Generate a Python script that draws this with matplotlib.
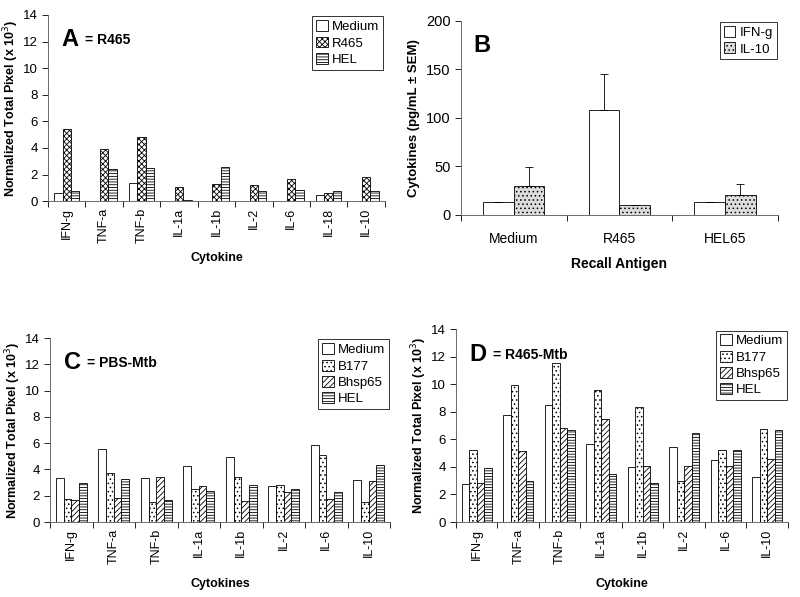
import numpy as np
import matplotlib
matplotlib.use("Agg")
import matplotlib.pyplot as plt

plt.rcParams['font.family'] = ['Liberation Sans', 'DejaVu Sans']
plt.rcParams['hatch.linewidth'] = 0.6

# panel A
cyto_a = ["IFN-g", "TNF-a", "TNF-b", "IL-1a", "IL-1b", "IL-2", "IL-6", "IL-18", "IL-10"]
a_medium = [0.65, 0, 1.4, 0, 0, 0, 0, 0.5, 0]
a_r465 = [5.4, 3.9, 4.85, 1.05, 1.3, 1.25, 1.65, 0.6, 1.8]
a_hel = [0.8, 2.45, 2.5, 0.1, 2.55, 0.8, 0.85, 0.75, 0.8]

# panel B
antigens = ["Medium", "R465", "HEL65"]
b_ifng = [13, 108, 13]
b_ifng_err = [0, 37, 0]
b_il10 = [30, 10, 21]
b_il10_err = [19, 0, 11]

# panels C and D
cyto_cd = ["IFN-g", "TNF-a", "TNF-b", "IL-1a", "IL-1b", "IL-2", "IL-6", "IL-10"]
c_medium = [3.35, 5.55, 3.35, 4.25, 4.95, 2.75, 5.85, 3.2]
c_b177 = [1.75, 3.75, 1.5, 2.55, 3.4, 2.8, 5.1, 1.55]
c_bhsp65 = [1.7, 1.85, 3.45, 2.75, 1.6, 2.3, 1.75, 3.15]
c_hel = [2.95, 3.25, 1.65, 2.35, 2.85, 2.55, 2.25, 4.35]

d_medium = [2.75, 7.75, 8.5, 5.7, 4.0, 5.45, 4.5, 3.3]
d_b177 = [5.2, 9.95, 11.55, 9.6, 8.35, 3.0, 5.2, 6.75]
d_bhsp65 = [2.8, 5.15, 6.8, 7.45, 4.05, 4.1, 4.05, 4.55]
d_hel = [3.95, 3.0, 6.7, 3.5, 2.8, 6.45, 5.2, 6.7]

STYLE = {
    "Medium": dict(facecolor="white", hatch=None),
    "R465": dict(facecolor="white", hatch="xxxxxx"),
    "HEL": dict(facecolor="white", hatch="------"),
    "B177": dict(facecolor="white", hatch="...."),
    "Bhsp65": dict(facecolor="white", hatch="//////"),
}


def excel_axes(ax, cats, rot=90, fs=9):
    n = len(cats)
    x = np.arange(n)
    ax.set_xticks(x)
    ax.set_xticklabels(cats, rotation=rot, fontsize=fs)
    ax.tick_params(axis="x", which="major", length=0, pad=5)
    ax.set_xticks(np.arange(n + 1) - 0.5, minor=True)
    ax.tick_params(axis="x", which="minor", length=4, width=0.6, direction="out")
    ax.tick_params(axis="y", length=4, width=0.6, labelsize=fs + 0.5)
    ax.set_xlim(-0.5, n - 0.5)
    for s in ["top", "right"]:
        ax.spines[s].set_visible(False)
    for s in ["left", "bottom"]:
        ax.spines[s].set_linewidth(0.6)
        ax.spines[s].set_color("#555555")


def grouped(ax, series, width):
    n = len(series)
    x = np.arange(len(series[0][1]))
    for i, (name, vals) in enumerate(series):
        off = (i - (n - 1) / 2) * width
        ax.bar(x + off, vals, width, edgecolor="black", linewidth=0.6,
               label=name, **STYLE[name])


def make_legend(ax, fs=9.5):
    lg = ax.legend(loc="upper right", fontsize=fs, frameon=True, fancybox=False,
                   handlelength=0.9, handleheight=0.9, handletextpad=0.3,
                   borderpad=0.3, labelspacing=0.25, borderaxespad=0.1)
    lg.get_frame().set_edgecolor("black")
    lg.get_frame().set_linewidth(0.7)


fig = plt.figure(figsize=(8, 5.97), dpi=100)
ylab = r"Normalized Total Pixel (x 10$^{3}$)"

# A
ax = fig.add_axes([0.06, 0.663, 0.421, 0.312])
grouped(ax, [("Medium", a_medium), ("R465", a_r465), ("HEL", a_hel)], 0.225)
excel_axes(ax, cyto_a)
ax.set_ylim(0, 14)
ax.set_yticks(range(0, 15, 2))
ax.set_ylabel(ylab, fontsize=9, fontweight="bold", labelpad=1)
ax.set_xlabel("Cytokine", fontsize=9, fontweight="bold", labelpad=6)
ax.text(0.04, 0.93, "A", transform=ax.transAxes, fontsize=17, fontweight="bold", va="top")
ax.text(0.11, 0.905, "= R465", transform=ax.transAxes, fontsize=10, fontweight="bold", va="top")
make_legend(ax)

# B
ax = fig.add_axes([0.576, 0.64, 0.3965, 0.325])
xb = np.arange(3)
w = 0.29
ax.bar(xb - w / 2, b_ifng, w, facecolor="white", edgecolor="black", linewidth=0.6,
       yerr=[np.zeros(3), b_ifng_err], capsize=3,
       error_kw=dict(elinewidth=0.6, capthick=0.6, ecolor="black"), label="IFN-g")
ax.bar(xb + w / 2, b_il10, w, facecolor="#dcdcdc", edgecolor="black", linewidth=0.6,
       hatch="....", yerr=[np.zeros(3), b_il10_err], capsize=3,
       error_kw=dict(elinewidth=0.6, capthick=0.6, ecolor="black"), label="IL-10")
excel_axes(ax, antigens, rot=0, fs=10)
ax.tick_params(axis="x", which="major", pad=12)
ax.set_ylim(0, 200)
ax.set_yticks(range(0, 201, 50))
ax.set_ylabel("Cytokines (pg/mL \u00b1 SEM)", fontsize=9.5, fontweight="bold")
ax.set_xlabel("Recall Antigen", fontsize=10, fontweight="bold", labelpad=8)
ax.text(0.04, 0.93, "B", transform=ax.transAxes, fontsize=17, fontweight="bold", va="top")
make_legend(ax, fs=9.5)

# C
ax = fig.add_axes([0.0625, 0.1256, 0.425, 0.308])
grouped(ax, [("Medium", c_medium), ("B177", c_b177), ("Bhsp65", c_bhsp65), ("HEL", c_hel)], 0.18)
excel_axes(ax, cyto_cd)
ax.set_ylim(0, 14)
ax.set_yticks(range(0, 15, 2))
ax.set_ylabel(ylab, fontsize=9, fontweight="bold", labelpad=1)
ax.set_xlabel("Cytokines", fontsize=9, fontweight="bold", labelpad=10)
ax.text(0.04, 0.93, "C", transform=ax.transAxes, fontsize=17, fontweight="bold", va="top")
ax.text(0.11, 0.905, "= PBS-Mtb", transform=ax.transAxes, fontsize=10, fontweight="bold", va="top")
make_legend(ax)

# D
ax = fig.add_axes([0.57, 0.1256, 0.415, 0.323])
grouped(ax, [("Medium", d_medium), ("B177", d_b177), ("Bhsp65", d_bhsp65), ("HEL", d_hel)], 0.18)
excel_axes(ax, cyto_cd)
ax.set_ylim(0, 14)
ax.set_yticks(range(0, 15, 2))
ax.set_ylabel(ylab, fontsize=9, fontweight="bold", labelpad=1)
ax.set_xlabel("Cytokine", fontsize=9, fontweight="bold", labelpad=10)
ax.text(0.04, 0.93, "D", transform=ax.transAxes, fontsize=17, fontweight="bold", va="top")
ax.text(0.11, 0.905, "= R465-Mtb", transform=ax.transAxes, fontsize=10, fontweight="bold", va="top")
make_legend(ax)

fig.savefig("out.png", dpi=100)
